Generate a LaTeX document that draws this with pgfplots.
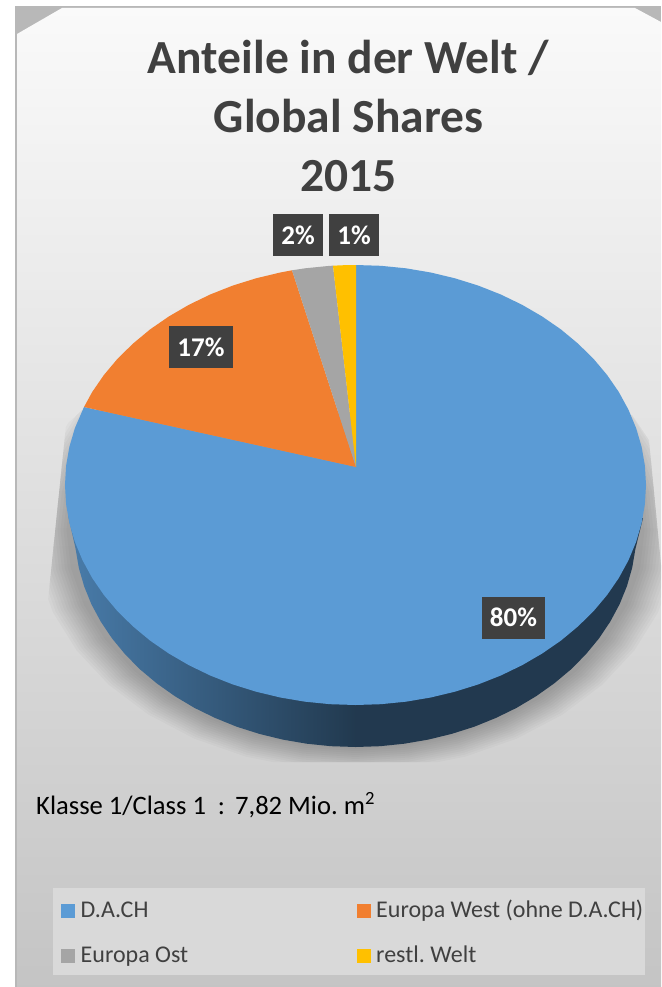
\documentclass[border=0pt]{standalone}
\usepackage{pgfplots}
\pgfplotsset{compat=1.18}
\usepackage{pgfplotstable}
\usepackage{fontspec}
\setmainfont{Carlito}
\frenchspacing
\definecolor{cblue}{HTML}{5B9BD5}
\definecolor{corange}{HTML}{F17F30}
\definecolor{cgray}{HTML}{A5A5A5}
\definecolor{cyellow}{HTML}{FFC000}
\definecolor{txt}{HTML}{404040}
\pgfplotstableread{
u v
0 1
0.1736 0.9848
0.3420 0.9397
0.5 0.8660
0.6428 0.7660
0.7660 0.6428
0.8660 0.5
0.9397 0.3420
0.9848 0.1736
1 0
0.9848 -0.1736
0.9397 -0.3420
0.8660 -0.5
0.7660 -0.6428
0.6428 -0.7660
0.5 -0.8660
0.3420 -0.9397
0.1736 -0.9848
0 -1
-0.1736 -0.9848
-0.3420 -0.9397
-0.5 -0.8660
-0.6428 -0.7660
-0.7660 -0.6428
-0.8660 -0.5
-0.9397 -0.3420
-0.9848 -0.1736
-1 0
-0.9848 0.1736
-0.9397 0.3420
-0.8660 0.5
-0.7660 0.6428
-0.6428 0.7660
-0.5 0.8660
-0.3420 0.9397
-0.1736 0.9848
}\unitellipse
\newcommand{\lab}[3]{\node[fill=txt,text=white,font=\fontsize{27}{27}\selectfont\bfseries,minimum width=#3pt,minimum height=42pt,inner sep=0pt] at (axis cs:#1) {#2};}
\newcommand{\shad}[2]{\addplot[draw=none,fill=black,opacity=.022,forget plot] table[x expr=355.5+#1*\thisrow{u},y expr=530-#2*\thisrow{v}] {\unitellipse} -- cycle;}
\begin{document}
\begin{tikzpicture}
\begin{axis}[
  scale only axis, width=661pt, height=987pt,
  xmin=0, xmax=661, ymin=0, ymax=987, y dir=reverse,
  hide axis, clip=true,
  legend columns=2,
  legend cell align=left,
  legend style={at={(axis cs:53,888)},anchor=north west,draw=none,fill=black!15!white,
    font=\fontsize{24}{24}\selectfont\color{txt},
    inner xsep=8pt,inner ysep=11.5pt,row sep=27pt,
    nodes={inner sep=0pt,anchor=base west}},
  legend image code/.code={\fill[#1] (0pt,-1pt) rectangle (14pt,13pt);\path (19.5pt,0pt);},
]
% page, frame, background
\addplot[draw=none,fill=white,forget plot] coordinates {(0,0)(661,0)(661,987)(0,987)} \closedcycle;
\addplot[draw=none,fill=black!28!white,forget plot] coordinates {(15,6)(661,6)(661,987)(15,987)} -- cycle;
\addplot[draw=none,top color=black!2!white,bottom color=black!23!white,forget plot] coordinates {(62,8)(635,8)(661,22)(661,987)(17,987)(17,34)} -- cycle;
% shadow
\begin{scope}
\clip (axis cs:82,410)--(axis cs:66,425)--(axis cs:46,620)--(axis cs:46,762)--(axis cs:661,762)--(axis cs:661,565)--(axis cs:649,440)--(axis cs:632,415)--cycle;
\shad{322}{241}\shad{319}{239}\shad{316}{237}\shad{313}{235}\shad{310}{233}\shad{307}{231}
\shad{304}{229}\shad{301}{227}\shad{298}{225}\shad{295}{223}\shad{292}{221}\shad{289}{219}
\end{scope}
% side wall
\addplot[draw=none,left color=cblue!80!black,right color=cblue!37!black,forget plot] coordinates {
(356,600)(68,515)(75.6,548.9)(78.8,567.7)(84.1,586.2)(91.4,604.2)(100.8,621.7)(112.1,638.5)(125.3,654.5)(140.2,669.5)(156.8,683.4)(174.9,696.2)(194.3,707.8)(215,717.9)(236.7,726.7)(259.4,733.9)(282.8,739.6)(306.7,743.7)(331,746.2)(356,747)} -- cycle;
\addplot[draw=none,fill=cblue!37!black,forget plot] coordinates {
(355.5,600)(643,518)(635.4,549)(632.2,567.7)(626.9,586.2)(619.6,604.2)(610.2,621.7)(598.9,638.5)(585.7,654.5)(570.8,669.5)(554.2,683.4)(536.1,696.2)(516.7,707.8)(496,717.9)(474.3,726.7)(451.6,733.9)(428.2,739.6)(404.3,743.7)(380,746.2)(355.5,747)} -- cycle;
% sectors
\addplot[draw=none,fill=cblue] coordinates {
(356,467)(355.5,265)(380.8,265.8)(405.9,268.3)(430.7,272.5)(454.9,278.3)(478.3,285.6)(500.8,294.5)(522.1,304.8)(542.2,316.5)(560.9,329.4)(578,343.6)(593.5,358.8)(607.1,375)(618.8,392)(628.5,409.8)(636.1,428.1)(641.6,446.8)(644.9,465.8)(646,485)(644.9,504.2)(641.6,523.2)(636.1,541.9)(628.5,560.2)(618.8,578)(607.1,595)(593.5,611.2)(578,626.4)(560.9,640.6)(542.2,653.5)(522.1,665.2)(500.8,675.5)(478.3,684.4)(454.9,691.7)(430.7,697.5)(405.9,701.7)(380.8,704.2)(355.5,705)(330.2,704.2)(305.1,701.7)(280.3,697.5)(256.1,691.7)(232.7,684.4)(210.2,675.5)(188.9,665.2)(168.8,653.5)(150.1,640.6)(133,626.4)(117.5,611.2)(103.9,595)(92.2,578)(82.5,560.2)(74.9,541.9)(69.4,523.2)(66.1,504.2)(65,485)(66.1,465.8)(69.4,446.8)(74.9,428.1)(84,407)} -- cycle;
\addlegendentry{\makebox[276pt][l]{D.A.CH}}
\addplot[draw=none,fill=corange] coordinates {
(356,467)(84,407)(92.2,392)(103.9,375)(117.5,358.8)(133,343.6)(150.1,329.4)(168.8,316.5)(188.9,304.8)(210.2,294.5)(232.7,285.6)(256.1,278.3)(280.3,272.5)(292,270.3)} -- cycle;
\addlegendentry{\makebox[260.5pt][l]{Europa West (ohne D.A.CH)}}
\addplot[draw=none,fill=cgray] coordinates {
(356,467)(292,270.3)(305.1,268.3)(330.2,265.8)(333,265.7)} -- cycle;
\addlegendentry{Europa Ost}
\addplot[draw=none,fill=cyellow] coordinates {
(356,467)(333,265.7)(344,265.2)(356,265)} -- cycle;
\addlegendentry{restl. Welt}
% labels
\lab{298,235}{2\%}{50}
\lab{354,235}{1\%}{50}
\lab{201,347}{17\%}{64}
\lab{513.5,617.5}{80\%}{63}
% title
\node[text=txt,font=\fontsize{47.5}{47.5}\selectfont\bfseries,anchor=base] at (axis cs:348.5,74) {Anteile in der Welt /};
\node[text=txt,font=\fontsize{47.5}{47.5}\selectfont\bfseries,anchor=base] at (axis cs:348.5,133) {Global Shares};
\node[text=txt,font=\fontsize{47.5}{47.5}\selectfont\bfseries,anchor=base] at (axis cs:348.5,191.5) {2015};
\node[text=black,font=\fontsize{26.6}{26.6}\selectfont,anchor=base west,inner sep=0pt] at (axis cs:36,814) {Klasse 1/Class 1\hspace{12pt}:\hspace{10pt}7,82 Mio. m\textsuperscript{2}};
\end{axis}
\end{tikzpicture}
\end{document}
